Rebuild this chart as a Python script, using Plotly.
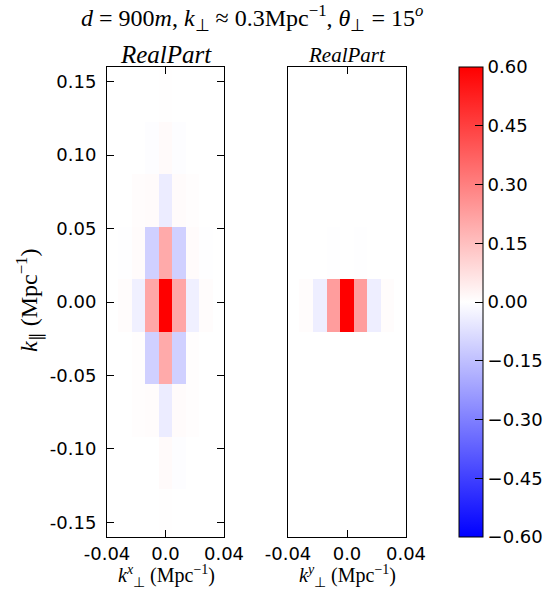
import plotly.graph_objects as go

# Grid of cell centres (Mpc^-1)
k_perp = [-0.0368, -0.0276, -0.0184, -0.0092, 0.0, 0.0092, 0.0184, 0.0276, 0.0368]
k_par = [-0.1452, -0.1095, -0.0738, -0.0381, -0.0024, 0.0333, 0.0690, 0.1047, 0.1404]

# Real part, k_perp^x vs k_par (rows bottom -> top)
real_x = [
    [0, 0, 0, 0, 0.002, 0, 0, 0, 0],
    [0, 0, 0, 0.001, 0.012, -0.004, 0, 0, 0],
    [0, 0, 0.004, 0.007, -0.045, 0.009, 0.004, 0, 0],
    [0, 0.001, 0.004, -0.11, 0.20, -0.11, 0.004, 0.001, 0],
    [0, 0.007, -0.035, 0.21, 0.64, 0.21, -0.035, 0.007, 0],
    [0, -0.003, 0.009, -0.11, 0.20, -0.11, 0.009, -0.003, 0],
    [0, 0.001, 0.006, 0.009, -0.045, 0.009, 0.004, 0, 0],
    [0, 0, 0, -0.005, 0.012, -0.005, 0, 0, 0],
    [0, 0, 0, 0, 0.003, 0, 0, 0, 0],
]

# Real part, k_perp^y vs k_par
real_y = [
    [0, 0, 0, 0, 0, 0, 0, 0, 0],
    [0, 0, 0, 0, 0, 0, 0, 0, 0],
    [0, 0, 0, 0, 0, 0, 0, 0, 0],
    [0, 0, 0, 0, 0, 0, 0, 0, 0],
    [0, 0.008, -0.04, 0.23, 0.64, 0.23, -0.04, 0.008, 0],
    [0, 0, 0, -0.003, 0.001, -0.003, 0, 0, 0],
    [0, 0, 0, 0, 0, 0, 0, 0, 0],
    [0, 0, 0, 0, 0, 0, 0, 0, 0],
    [0, 0, 0, 0, 0, 0, 0, 0, 0],
]

x_ticks = [-0.04, 0.0, 0.04]
x_ticktext = ["-0.04", "0.0", "0.04"]
y_ticks = [-0.15, -0.10, -0.05, 0.0, 0.05, 0.10, 0.15]
y_ticktext = ["-0.15", "-0.10", "-0.05", "0.00", "0.05", "0.10", "0.15"]
cbar_ticks = [-0.6, -0.45, -0.3, -0.15, 0.0, 0.15, 0.3, 0.45, 0.6]

W, H = 555, 590
bwr = [[0.0, "rgb(0,0,255)"], [0.5, "rgb(255,255,255)"], [1.0, "rgb(255,0,0)"]]
tick_font = dict(family="DejaVu Sans", size=18, color="black")
serif = "Liberation Serif"

fig = go.Figure()
fig.add_trace(go.Heatmap(x=k_perp, y=k_par, z=real_x, coloraxis="coloraxis",
                         xaxis="x", yaxis="y", hoverinfo="skip"))
fig.add_trace(go.Heatmap(x=k_perp, y=k_par, z=real_y, coloraxis="coloraxis",
                         xaxis="x2", yaxis="y2", hoverinfo="skip"))

y_dom = [1 - 537 / H, 1 - 67 / H]
axis_common = dict(showline=True, linecolor="black", linewidth=1, mirror="allticks",
                   ticks="inside", ticklen=7, tickcolor="black", showgrid=False,
                   zeroline=False, tickfont=tick_font)

fig.update_layout(
    width=W, height=H,
    margin=dict(l=0, r=0, t=0, b=0, autoexpand=False),
    paper_bgcolor="white", plot_bgcolor="white",
    xaxis=dict(domain=[107 / W, 224 / W], range=[-0.04, 0.04], anchor="y",
               tickvals=x_ticks, ticktext=x_ticktext, **axis_common),
    yaxis=dict(domain=y_dom, range=[-0.16, 0.16], anchor="x",
               tickvals=y_ticks, ticktext=y_ticktext, ticklabelstandoff=6, **axis_common),
    xaxis2=dict(domain=[288 / W, 406 / W], range=[-0.04, 0.04], anchor="y2",
                tickvals=x_ticks, ticktext=x_ticktext, **axis_common),
    yaxis2=dict(domain=y_dom, range=[-0.16, 0.16], anchor="x2",
                showline=True, linecolor="black", linewidth=1, mirror=True,
                ticks="", showticklabels=False, showgrid=False, zeroline=False),
    coloraxis=dict(
        colorscale=bwr, cmin=-0.6, cmax=0.6,
        colorbar=dict(x=459 / W, xanchor="left", xpad=0, ypad=0,
                      y=1 - 302 / H, yanchor="middle",
                      thickness=24, thicknessmode="pixels",
                      len=470 / H, lenmode="fraction",
                      outlinecolor="black", outlinewidth=1,
                      ticks="inside", ticklen=8, tickcolor="black",
                      tickvals=cbar_ticks, tickformat=".2f", tickfont=tick_font),
    ),
    showlegend=False,
)

annotations = [
    dict(x=252 / W, y=1 - 18 / H,
         text="<i>d</i> = 900<i>m</i>, <i>k</i><sub>⊥</sub> ≈ 0.3Mpc<sup>−1</sup>, "
              "<i>θ</i><sub>⊥</sub> = 15<sup><i>o</i></sup>",
         font=dict(family=serif, size=24)),
    dict(x=166 / W, y=1 - 54 / H, text="<i>RealPart</i>", font=dict(family=serif, size=25)),
    dict(x=347 / W, y=1 - 55 / H, text="<i>RealPart</i>", font=dict(family=serif, size=21)),
    dict(x=166 / W, y=1 - 576 / H,
         text="<i>k</i><sup><i>x</i></sup><sub>⊥</sub> (Mpc<sup>−1</sup>)",
         font=dict(family=serif, size=20)),
    dict(x=347 / W, y=1 - 576 / H,
         text="<i>k</i><sup><i>y</i></sup><sub>⊥</sub> (Mpc<sup>−1</sup>)",
         font=dict(family=serif, size=20)),
    dict(x=29 / W, y=1 - 300 / H, textangle=-90,
         text="<i>k</i><sub>∥</sub> (Mpc<sup>−1</sup>)",
         font=dict(family=serif, size=24)),
]
for a in annotations:
    a.update(xref="paper", yref="paper", showarrow=False,
             xanchor="center", yanchor="middle")
    a["font"]["color"] = "black"
fig.update_layout(annotations=annotations)

fig.write_html("out.html")
